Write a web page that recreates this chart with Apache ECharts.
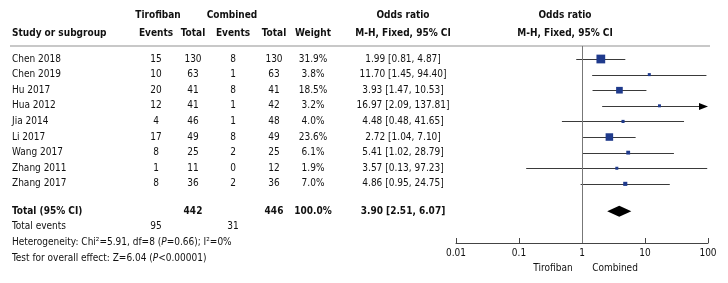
<!DOCTYPE html>
<html>
<head>
<meta charset="utf-8">
<script src="https://cdn.jsdelivr.net/npm/echarts@6/dist/echarts.min.js"></script>
<style>
  html, body { margin: 0; padding: 0; background: #fff; }
  #forest { width: 728px; height: 283px; }
</style>
</head>
<body>
<div id="forest"></div>
<script>
// study data
const studies = ['Chen 2018', 'Chen 2019', 'Hu 2017', 'Hua 2012', 'Jia 2014', 'Li 2017', 'Wang 2017', 'Zhang 2011', 'Zhang 2017'];
const tiroEvents = [15, 10, 20, 12, 4, 17, 8, 1, 8];
const tiroTotal = [130, 63, 41, 41, 46, 49, 25, 11, 36];
const combEvents = [8, 1, 8, 1, 1, 8, 2, 0, 2];
const combTotal = [130, 63, 41, 42, 48, 49, 25, 12, 36];
const weights = [31.9, 3.8, 18.5, 3.2, 4.0, 23.6, 6.1, 1.9, 7.0];
const oddsRatio = [1.99, 11.70, 3.93, 16.97, 4.48, 2.72, 5.41, 3.57, 4.86];
const ciLow = [0.81, 1.45, 1.47, 2.09, 0.48, 1.04, 1.02, 0.13, 0.95];
const ciHigh = [4.87, 94.40, 10.53, 137.81, 41.65, 7.10, 28.79, 97.23, 24.75];

const totalOR = [3.90, 2.51, 6.07];
const totalN = [442, 446];
const totalEvents = [95, 31];
const tickLabels = ['0.01', '0.1', '1', '10', '100'];

const FONT = "'Liberation Sans Narrow', 'DejaVu Sans Condensed', 'Roboto', sans-serif";
const FS = '10px ';
const XMIN = 0.01, XMAX = 100;
const ROW_TOTAL = 9.75;

const chartDom = document.getElementById('forest');
const myChart = echarts.init(chartDom, null, { renderer: 'canvas' });

const ciRows = studies.map((s, i) => [ciLow[i], ciHigh[i], i]);
const squares = studies.map((s, i) => [oddsRatio[i], i, weights[i]]);

let option = {
    animation: false,
    grid: { left: 456, right: 20, top: 46, bottom: 40 },
    xAxis: {
        type: 'log',
        logBase: 10,
        min: XMIN,
        max: XMAX,
        position: 'bottom',
        splitLine: { show: false },
        axisLine: { onZero: false, lineStyle: { color: '#444', width: 1 } },
        axisTick: { inside: true, length: 5, lineStyle: { color: '#444' } },
        minorTick: { show: false },
        axisLabel: {
            color: '#111',
            fontSize: 10,
            fontFamily: FONT,
            margin: 5,
            formatter: function (v) {
                const k = Math.round(Math.log10(v)) + 2;
                return tickLabels[k] || '';
            }
        }
    },
    yAxis: {
        type: 'value',
        min: -0.833,
        max: 11.79,
        inverse: true,
        show: false
    },
    series: [
        {
            // confidence intervals
            type: 'custom',
            clip: false,
            data: ciRows,
            renderItem: function (params, api) {
                const hiVal = api.value(1);
                const p1 = api.coord([api.value(0), api.value(2)]);
                const p2 = api.coord([Math.min(hiVal, XMAX), api.value(2)]);
                const y = Math.round(p1[1]) + 0.5;
                const children = [{
                    type: 'line',
                    shape: { x1: p1[0], y1: y, x2: p2[0] - (hiVal > XMAX ? 4 : 0), y2: y },
                    style: { stroke: '#3a3a3a', lineWidth: 1 }
                }];
                if (hiVal > XMAX) {
                    children.push({
                        type: 'polygon',
                        shape: { points: [[p2[0] - 9, y - 3.5], [p2[0], y], [p2[0] - 9, y + 3.5]] },
                        style: { fill: '#000' }
                    });
                }
                return { type: 'group', children: children };
            },
            z: 2
        },
        {
            type: 'scatter',
            data: squares,
            symbol: 'rect',
            symbolSize: function (v) { return Math.max(3, 1.55 * Math.sqrt(v[2])); },
            itemStyle: { color: '#1f3a8c', opacity: 1 },
            z: 3,
            markLine: {
                silent: true,
                symbol: 'none',
                label: { show: false },
                lineStyle: { color: '#777', type: 'solid', width: 1 },
                data: [{ xAxis: 1 }]
            }
        },
        {
            // pooled estimate diamond
            type: 'custom',
            clip: false,
            data: [[totalOR[0], totalOR[1], totalOR[2], ROW_TOTAL]],
            renderItem: function (params, api) {
                const c = api.coord([api.value(0), api.value(3)]);
                const l = api.coord([api.value(1), api.value(3)]);
                const r = api.coord([api.value(2), api.value(3)]);
                const h = 5.5;
                return {
                    type: 'polygon',
                    shape: { points: [[l[0], c[1]], [c[0], c[1] - h], [r[0], c[1]], [c[0], c[1] + h]] },
                    style: { fill: '#000' }
                };
            },
            z: 3
        }
    ]
};

myChart.setOption(option);

// table text, rows positioned with the same y scale as the plot
function rowY(i) {
    return myChart.convertToPixel({ yAxisIndex: 0 }, i);
}

const COL = { study: 12, tE: 156, tT: 193, cE: 233, cT: 274, w: 313, or: 403 };
const g = [];

function txt(x, y, s, align, bold, extra) {
    g.push({
        type: 'text',
        x: x, y: y,
        style: Object.assign({
            text: s,
            align: align || 'center',
            verticalAlign: 'middle',
            fill: '#111',
            font: (bold ? 'bold ' : '') + FS + FONT
        }, extra || {})
    });
}

// headers
txt(158, 15, 'Tirofiban', 'center', true);
txt(232, 15, 'Combined', 'center', true);
txt(COL.or, 15, 'Odds ratio', 'center', true);
txt(565, 15, 'Odds ratio', 'center', true);
txt(COL.study, 33, 'Study or subgroup', 'left', true);
txt(COL.tE, 33, 'Events', 'center', true);
txt(COL.tT, 33, 'Total', 'center', true);
txt(COL.cE, 33, 'Events', 'center', true);
txt(COL.cT, 33, 'Total', 'center', true);
txt(COL.w, 33, 'Weight', 'center', true);
txt(COL.or, 33, 'M-H, Fixed, 95% CI', 'center', true);
txt(565, 33, 'M-H, Fixed, 95% CI', 'center', true);

g.push({
    type: 'line',
    shape: { x1: 10, y1: 46, x2: 710, y2: 46 },
    style: { stroke: '#c8c8c8', lineWidth: 2 }
});

studies.forEach(function (s, i) {
    const y = rowY(i);
    txt(COL.study, y, s, 'left');
    txt(COL.tE, y, String(tiroEvents[i]));
    txt(COL.tT, y, String(tiroTotal[i]));
    txt(COL.cE, y, String(combEvents[i]));
    txt(COL.cT, y, String(combTotal[i]));
    txt(COL.w, y, weights[i].toFixed(1) + '%');
    txt(COL.or, y, oddsRatio[i].toFixed(2) + ' [' + ciLow[i].toFixed(2) + ', ' + ciHigh[i].toFixed(2) + ']');
});

let y = rowY(ROW_TOTAL);
txt(COL.study, y, 'Total (95% CI)', 'left', true);
txt(COL.tT, y, String(totalN[0]), 'center', true);
txt(COL.cT, y, String(totalN[1]), 'center', true);
txt(COL.w, y, '100.0%', 'center', true);
txt(COL.or, y, totalOR[0].toFixed(2) + ' [' + totalOR[1].toFixed(2) + ', ' + totalOR[2].toFixed(2) + ']', 'center', true);

y = rowY(ROW_TOTAL + 1);
txt(COL.study, y, 'Total events', 'left');
txt(COL.tE, y, String(totalEvents[0]));
txt(COL.cE, y, String(totalEvents[1]));

const rich = {
    n: { font: FS + FONT, fill: '#111' },
    i: { font: 'italic ' + FS + FONT, fill: '#111' }
};
y = rowY(ROW_TOTAL + 2);
txt(COL.study, y, '{n|Heterogeneity: Chi²=5.91, df=8 (}{i|P}{n|=0.66); I²=0%}', 'left', false, { rich: rich });
y = rowY(ROW_TOTAL + 3);
txt(COL.study, y, '{n|Test for overall effect: Z=6.04 (}{i|P}{n|<0.00001)}', 'left', false, { rich: rich });

// favours labels
txt(553, 268, 'Tirofiban');
txt(615, 268, 'Combined');

myChart.setOption({ graphic: { elements: g } });
</script>
</body>
</html>
